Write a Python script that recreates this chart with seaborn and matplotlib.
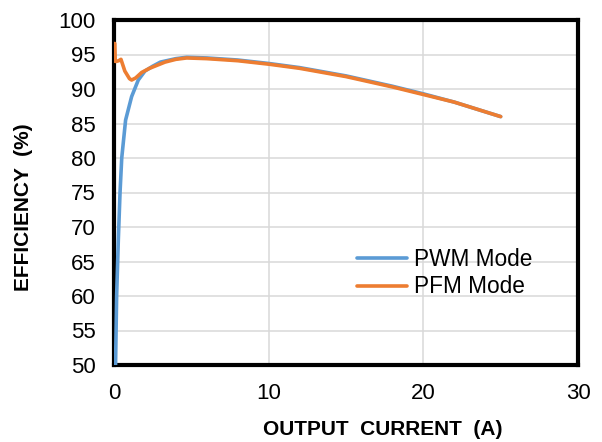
import matplotlib
matplotlib.use("Agg")
import matplotlib.pyplot as plt
import seaborn as sns
import pandas as pd

# Data
pwm_current = [0.1, 0.17, 0.28, 0.39, 0.5, 0.75, 1.14, 1.57, 2.0, 2.5, 3.0, 4.0, 4.7,
               6.0, 8.0, 10.0, 12.0, 15.0, 18.0, 20.0, 22.0, 25.0]
pwm_eff = [50.0, 60.0, 68.2, 75.0, 80.0, 85.5, 88.9, 91.3, 92.6, 93.3, 93.9, 94.4, 94.6,
           94.5, 94.2, 93.7, 93.1, 91.9, 90.4, 89.3, 88.1, 86.0]

pfm_current = [0.05, 0.08, 0.15, 0.3, 0.45, 0.7, 1.0, 1.14, 1.4, 1.79, 2.3, 3.3, 4.0,
               4.7, 6.0, 8.0, 10.0, 12.0, 15.0, 18.0, 20.0, 22.0, 25.0]
pfm_eff = [96.6, 94.0, 94.0, 94.1, 94.3, 92.6, 91.5, 91.3, 91.6, 92.4, 93.0, 93.9, 94.3,
           94.5, 94.4, 94.1, 93.6, 93.0, 91.8, 90.3, 89.2, 88.1, 86.0]

x_ticks = [0, 10, 20, 30]
y_ticks = [50, 55, 60, 65, 70, 75, 80, 85, 90, 95, 100]
series_names = ["PWM Mode", "PFM Mode"]
colors = ["#5B9BD5", "#ED7D31"]

df = pd.concat([
    pd.DataFrame({"current": pwm_current, "eff": pwm_eff, "mode": series_names[0]}),
    pd.DataFrame({"current": pfm_current, "eff": pfm_eff, "mode": series_names[1]}),
], ignore_index=True)

sns.set_theme(style="white")
plt.rcParams["font.family"] = ["Liberation Sans", "DejaVu Sans"]

fig = plt.figure(figsize=(6.02, 4.42), dpi=100)
ax = fig.add_axes([114/602, 1-365/442, (578-114)/602, (365-20)/442])

sns.lineplot(data=df, x="current", y="eff", hue="mode", palette=colors,
             hue_order=series_names, sort=False, estimator=None,
             linewidth=2.6, ax=ax, zorder=3)

ax.set_xlim(0, 30)
ax.set_ylim(50, 100)
ax.set_xticks(x_ticks)
ax.set_yticks(y_ticks)
ax.grid(True, color="#D9D9D9", linewidth=1.1)
ax.set_axisbelow(True)
for s in ax.spines.values():
    s.set_color("black")
    s.set_linewidth(3)
    s.set_zorder(2.5)
ax.tick_params(axis="both", length=0, labelsize=16, colors="black")
ax.tick_params(axis="x", pad=13)
ax.tick_params(axis="y", pad=13)

ax.set_xlabel("OUTPUT  CURRENT  (A)", fontsize=15, fontweight="bold", color="black")
ax.xaxis.set_label_coords(0.58, -0.16)
ax.set_ylabel("EFFICIENCY  (%)", fontsize=15, fontweight="bold", color="black")
ax.yaxis.set_label_coords(-0.175, 0.458)

leg = ax.legend(loc="center left", bbox_to_anchor=(0.524, 0.266), frameon=False,
                fontsize=16.3, handlelength=2.2, handletextpad=0.3,
                labelspacing=0.2, borderpad=0, borderaxespad=0, labelcolor="black")
for line in leg.get_lines():
    line.set_linewidth(2.6)

fig.savefig("out.png", dpi=100)
